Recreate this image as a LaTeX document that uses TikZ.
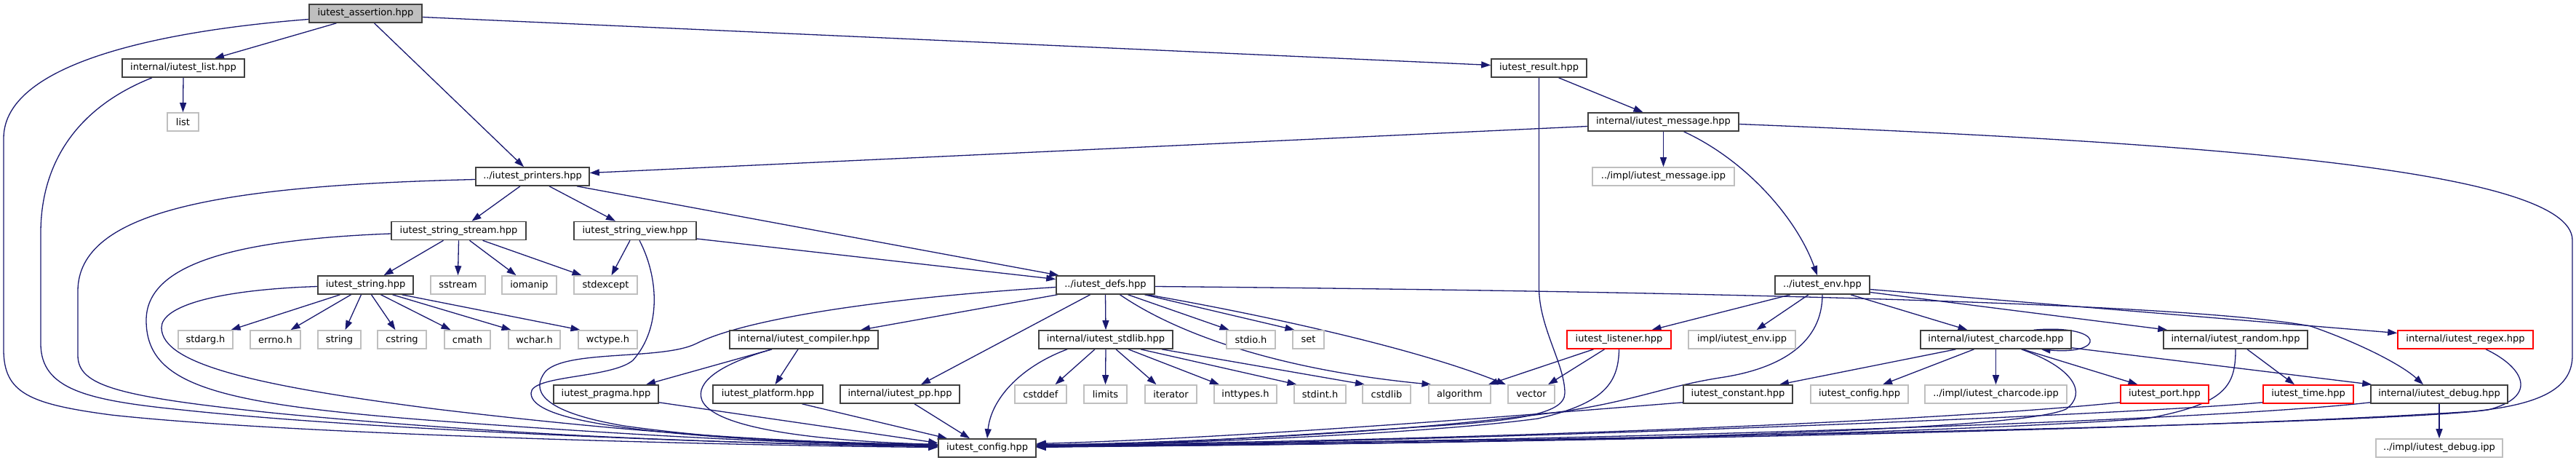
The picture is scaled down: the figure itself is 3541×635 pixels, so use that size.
\documentclass[tikz,border=0pt]{standalone}
\usepackage{fontspec}
\setmainfont{DejaVu Sans}
\usetikzlibrary{arrows.meta}
\definecolor{edgec}{HTML}{191970}
\definecolor{boxc}{HTML}{404040}
\definecolor{extc}{HTML}{BFBFBF}
\definecolor{rootc}{HTML}{BFBFBF}
\definecolor{redc}{HTML}{FF0000}
\pgfdeclarelayer{bg}
\pgfsetlayers{bg,main}
\begin{document}
\begin{tikzpicture}[x=1pt,y=-1pt,
  box/.style={draw=boxc, line width=1.6pt, fill=white, minimum height=25pt, inner sep=0pt, font=\fontsize{13pt}{15pt}\selectfont, text=black},
  ext/.style={box, draw=extc},
  redbox/.style={box, draw=redc},
  root/.style={box, fill=rootc},
  dep/.style={draw=edgec, line width=1.3pt, -{Triangle[length=13pt,width=9pt]}}
]
\useasboundingbox (0,0) rectangle (3541,635);
% row 0
\node[root, minimum width=155pt] (assert) at (502.5,18.5) {iutest\_assertion.hpp};
% row 1
\node[box, minimum width=168pt] (ilist) at (252,93.5) {internal/iutest\_list.hpp};
\node[box, minimum width=131pt] (result) at (2115.5,93.5) {iutest\_result.hpp};
% row 2
\node[ext, minimum width=43pt] (list) at (251.5,167.5) {list};
\node[box, minimum width=207pt] (msg) at (2286.5,167.5) {internal/iutest\_message.hpp};
% row 3
\node[box, minimum width=156pt] (printers) at (732,242.5) {../iutest\_printers.hpp};
\node[ext, minimum width=195pt] (msgipp) at (2286.5,242.5) {../impl/iutest\_message.ipp};
% row 4
\node[box, minimum width=185pt] (sstreamh) at (630.5,317) {iutest\_string\_stream.hpp};
\node[box, minimum width=168pt] (sview) at (873,317) {iutest\_string\_view.hpp};
% row 5
\node[box, minimum width=131pt] (strh) at (502.5,391.5) {iutest\_string.hpp};
\node[ext, minimum width=75pt] (sstream) at (629.5,391.5) {sstream};
\node[ext, minimum width=75pt] (iomanip) at (727.5,391.5) {iomanip};
\node[ext, minimum width=87pt] (stdexcept) at (832.5,391.5) {stdexcept};
\node[box, minimum width=135pt] (defs) at (1519.5,391.5) {../iutest\_defs.hpp};
\node[box, minimum width=130pt] (env) at (2505,391.5) {../iutest\_env.hpp};
% row 6
\node[ext, minimum width=75pt] (stdarg) at (282.5,466.5) {stdarg.h};
\node[ext, minimum width=69pt] (errno) at (378.5,466.5) {errno.h};
\node[ext, minimum width=59pt] (string) at (466.5,466.5) {string};
\node[ext, minimum width=67pt] (cstring) at (552.5,466.5) {cstring};
\node[ext, minimum width=63pt] (cmath) at (642.5,466.5) {cmath};
\node[ext, minimum width=71pt] (wchar) at (734.5,466.5) {wchar.h};
\node[ext, minimum width=81pt] (wctype) at (835.5,466.5) {wctype.h};
\node[box, minimum width=204pt] (compiler) at (1105,466.5) {internal/iutest\_compiler.hpp};
\node[box, minimum width=184pt] (stdlib) at (1520,466.5) {internal/iutest\_stdlib.hpp};
\node[ext, minimum width=67pt] (stdio) at (1719.5,466.5) {stdio.h};
\node[ext, minimum width=43pt] (set) at (1798.5,466.5) {set};
\node[redbox, minimum width=143pt] (listener) at (2225.5,466.5) {iutest\_listener.hpp};
\node[ext, minimum width=147pt] (envipp) at (2394.5,466.5) {impl/iutest\_env.ipp};
\node[box, minimum width=207pt] (charcode) at (2743.5,466.5) {internal/iutest\_charcode.hpp};
\node[box, minimum width=198pt] (random) at (3073,466.5) {internal/iutest\_random.hpp};
\node[redbox, minimum width=186pt] (regex) at (3389,466.5) {internal/iutest\_regex.hpp};
% row 7
\node[box, minimum width=144pt] (pragma) at (833,541.5) {iutest\_pragma.hpp};
\node[box, minimum width=151pt] (platform) at (1055.5,541.5) {iutest\_platform.hpp};
\node[box, minimum width=164pt] (pp) at (1237,541.5) {internal/iutest\_pp.hpp};
\node[ext, minimum width=71pt] (cstddef) at (1430.5,541.5) {cstddef};
\node[ext, minimum width=59pt] (limits) at (1519.5,541.5) {limits};
\node[ext, minimum width=71pt] (iterator) at (1609.5,541.5) {iterator};
\node[ext, minimum width=86pt] (inttypes) at (1712,541.5) {inttypes.h};
\node[ext, minimum width=71pt] (stdint) at (1814.5,541.5) {stdint.h};
\node[ext, minimum width=66pt] (cstdlib) at (1906,541.5) {cstdlib};
\node[ext, minimum width=85pt] (algorithm) at (2006.5,541.5) {algorithm};
\node[ext, minimum width=64pt] (vector) at (2105,541.5) {vector};
\node[box, minimum width=150pt] (constant) at (2389,541.5) {iutest\_constant.hpp};
\node[ext, minimum width=134pt] (cfgx) at (2556,541.5) {iutest\_config.hpp};
\node[ext, minimum width=195pt] (ccipp) at (2743.5,541.5) {../impl/iutest\_charcode.ipp};
\node[redbox, minimum width=121pt] (port) at (2975.5,541.5) {iutest\_port.hpp};
\node[redbox, minimum width=124pt] (time) at (3173,541.5) {iutest\_time.hpp};
\node[box, minimum width=188pt] (debug) at (3353,541.5) {internal/iutest\_debug.hpp};
% row 8
\node[box, minimum width=134pt] (cfg) at (1357,615.5) {iutest\_config.hpp};
\node[ext, minimum width=174pt] (dbgipp) at (3353,615.5) {../impl/iutest\_debug.ipp};

\begin{pgfonlayer}{bg}
% assertion
\draw[dep] ([xshift=-40pt]assert.south) -- ([xshift=43pt]ilist.north);
\draw[dep] ([xshift=12pt]assert.south) -- ([xshift=-12pt]printers.north);
\draw[dep] ([yshift=-5pt]assert.east) -- ([yshift=4pt]result.west);
\draw[dep] ([yshift=-8pt]assert.west) .. controls (250,40) and (5,80) .. (5,190) -- (5,480) .. controls (5,540) and (40,555) .. (153,570) .. controls (400,597) and (1000,612) .. ([yshift=1pt]cfg.west);
% internal/iutest_list.hpp
\draw[dep] (ilist.south) -- (list.north);
\draw[dep] ([xshift=-43pt]ilist.south) .. controls (100,150) and (56,230) .. (56,320) -- (56,472) .. controls (56,535) and (120,550) .. (250,563) .. controls (500,590) and (1000,610) .. ([yshift=2pt]cfg.west);
% printers
\draw[dep] ([xshift=-17pt]printers.south) -- ([xshift=18pt]sstreamh.north);
\draw[dep] ([xshift=23pt]printers.south) -- ([xshift=-27pt]sview.north);
\draw[dep] ([xshift=61pt]printers.south) -- ([xshift=-64pt]defs.north);
\draw[dep] ([yshift=-4pt]printers.west) .. controls (300,255) and (107,290) .. (107,400) -- (107,488) .. controls (107,530) and (160,545) .. (383,568) .. controls (700,598) and (1000,610) .. ([yshift=3pt]cfg.west);
% result
\draw[dep] ([xshift=27pt]result.south) -- ([xshift=-28pt]msg.north);
\draw[dep] (result.south) -- (2115.5,395) .. controls (2115.5,450) and (2151,500) .. (2151,540) .. controls (2151,570) and (2080,578) .. (1960,586) .. controls (1750,600) and (1550,612) .. ([yshift=1pt]cfg.east);
% message
\draw[dep] ([yshift=-6pt]msg.west) -- ([yshift=5pt]printers.east);
\draw[dep] (msg.south) -- (msgipp.north);
\draw[dep] ([xshift=28pt]msg.south) .. controls (2400,220) and (2470,300) .. ([xshift=-7pt]env.north);
\draw[dep] ([yshift=-3pt]msg.east) .. controls (3000,195) and (3536,230) .. (3536,330) -- (3536,488) .. controls (3536,530) and (3500,555) .. (3400,565) .. controls (3000,592) and (2000,610) .. ([yshift=2pt]cfg.east);
% string_stream
\draw[dep] ([xshift=-21pt]sstreamh.south) -- ([xshift=25pt]strh.north);
\draw[dep] (sstreamh.south) -- (sstream.north);
\draw[dep] ([xshift=15pt]sstreamh.south) -- ([xshift=-18pt]iomanip.north);
\draw[dep] ([xshift=33pt]sstreamh.south) -- ([xshift=-33pt]stdexcept.north);
\draw[dep] ([yshift=-4pt]sstreamh.west) .. controls (300,330) and (201,370) .. (201,440) .. controls (201,530) and (300,555) .. (600,578) .. controls (900,600) and (1100,610) .. ([yshift=4pt]cfg.west);
% string_view
\draw[dep] ([xshift=-7pt]sview.south) -- ([xshift=8pt]stdexcept.north);
\draw[dep] ([yshift=-11pt]sview.east) -- ([yshift=8pt]defs.west);
\draw[dep] ([xshift=6pt]sview.south) .. controls (905,380) and (910,450) .. (870,495) .. controls (840,520) and (730,515) .. (730,540) .. controls (730,570) and (820,588) .. (1000,601) .. controls (1100,607) and (1200,610) .. ([yshift=4pt]cfg.west);
% string
\draw[dep] ([xshift=-35pt]strh.south) -- ([xshift=35pt]stdarg.north);
\draw[dep] ([xshift=-20pt]strh.south) -- ([xshift=21pt]errno.north);
\draw[dep] ([xshift=-6pt]strh.south) -- ([xshift=8pt]string.north);
\draw[dep] ([xshift=8pt]strh.south) -- ([xshift=-9pt]cstring.north);
\draw[dep] ([xshift=21pt]strh.south) -- ([xshift=-23pt]cmath.north);
\draw[dep] ([xshift=37pt]strh.south) -- ([xshift=-32pt]wchar.north);
\draw[dep] ([xshift=50pt]strh.south) -- ([xshift=-38pt]wctype.north);
\draw[dep] ([yshift=-2pt]strh.west) .. controls (300,398) and (222,420) .. (222,450) .. controls (222,500) and (350,530) .. (600,562) .. controls (900,598) and (1100,608) .. ([yshift=5pt]cfg.west);
% defs
\draw[dep] ([xshift=-66pt]defs.south) -- ([xshift=78pt]compiler.north);
\draw[dep] (defs.south) -- (stdlib.north);
\draw[dep] ([xshift=-21pt]defs.south) -- ([xshift=29pt]pp.north);
\draw[dep] ([xshift=31pt]defs.south) -- ([xshift=-30pt]stdio.north);
\draw[dep] ([xshift=54pt]defs.south) -- ([xshift=-19pt]set.north);
\draw[dep] ([xshift=20pt]defs.south) .. controls (1620,460) and (1760,508) .. ([xshift=-39pt]algorithm.north);
\draw[dep] ([xshift=58pt]defs.south) .. controls (1750,435) and (1950,480) .. ([xshift=-35pt]vector.north);
\draw[dep] ([yshift=-2pt]defs.east) .. controls (2300,400) and (3000,415) .. (3176,448) .. controls (3240,470) and (3300,500) .. ([xshift=-22pt]debug.north);
\draw[dep] ([yshift=-3pt]defs.west) .. controls (1200,410) and (1020,440) .. (957,472) .. controls (910,495) and (780,480) .. (750,510) .. controls (730,535) and (740,565) .. (858,585) .. controls (1000,605) and (1150,610) .. ([yshift=3pt]cfg.west);
% compiler
\draw[dep] ([xshift=-44pt]compiler.south) -- ([xshift=55pt]pragma.north);
\draw[dep] ([xshift=-8pt]compiler.south) -- ([xshift=10pt]platform.north);
\draw[dep] ([xshift=-44pt]compiler.south) .. controls (990,500) and (955,525) .. (965,550) .. controls (980,585) and (1100,605) .. ([yshift=5pt]cfg.west);
\draw[dep] ([yshift=2pt]pragma.south east) -- ([yshift=7pt]cfg.west);
\draw[dep] ([xshift=47pt]platform.south) -- ([xshift=-55pt]cfg.north);
\draw[dep] ([xshift=20pt]pp.south) -- ([xshift=-24pt]cfg.north);
% stdlib
\draw[dep] ([xshift=-53pt]stdlib.south) .. controls (1400,505) and (1362,550) .. (cfg.north);
\draw[dep] ([xshift=-15pt]stdlib.south) -- ([xshift=20pt]cstddef.north);
\draw[dep] (stdlib.south) -- (limits.north);
\draw[dep] ([xshift=14pt]stdlib.south) -- ([xshift=-20pt]iterator.north);
\draw[dep] ([xshift=31pt]stdlib.south) -- ([xshift=-36pt]inttypes.north);
\draw[dep] ([xshift=48pt]stdlib.south) -- ([xshift=-32pt]stdint.north);
\draw[dep] ([xshift=77pt]stdlib.south) -- ([xshift=-30pt]cstdlib.north);
% listener
\draw[dep] ([xshift=-35pt]listener.south) -- ([xshift=-4pt]algorithm.north east);
\draw[dep] ([xshift=-20pt]listener.south) -- ([xshift=23pt]vector.north);
\draw[dep] (listener.south) .. controls (2225,530) and (2200,555) .. (2114,575) .. controls (1950,597) and (1600,610) .. ([yshift=3pt]cfg.east);
% env
\draw[dep] ([xshift=-44pt]env.south) -- ([xshift=45pt]listener.north);
\draw[dep] ([xshift=-19pt]env.south) -- ([xshift=20pt]envipp.north);
\draw[dep] ([xshift=39pt]env.south) -- ([xshift=-39pt]charcode.north);
\draw[dep] ([yshift=-10pt]env.east) -- ([xshift=6pt]random.north west);
\draw[dep] ([yshift=-6pt]env.east) -- ([yshift=9pt]regex.west);
\draw[dep] (env.south) .. controls (2505,470) and (2450,505) .. (2370,518) .. controls (2290,530) and (2250,550) .. (2150,565) .. controls (1900,598) and (1600,608) .. ([yshift=4pt]cfg.east);
% charcode
\draw[dep] ([xshift=52pt]charcode.north) .. controls (2895,445) and (2895,488) .. ([xshift=62pt]charcode.south);
\draw[dep] ([xshift=-55pt]charcode.south) -- ([xshift=57pt]constant.north);
\draw[dep] ([xshift=-30pt]charcode.south) -- ([xshift=32pt]cfgx.north);
\draw[dep] (charcode.south) -- (ccipp.north);
\draw[dep] ([xshift=37pt]charcode.south) -- ([xshift=-37pt]port.north);
\draw[dep] ([yshift=2pt]charcode.south east) -- ([xshift=2pt]debug.north west);
\draw[dep] ([xshift=35pt]charcode.south) .. controls (2850,505) and (2870,540) .. (2840,562) .. controls (2800,580) and (2600,590) .. (2360,598) .. controls (2000,610) and (1600,612) .. ([yshift=1pt]cfg.east);
% random
\draw[dep] ([xshift=16pt]random.south) -- ([xshift=-19pt]time.north);
\draw[dep] (random.south) .. controls (3073,530) and (3060,555) .. (2950,575) .. controls (2600,600) and (1800,612) .. ([yshift=2pt]cfg.east);
% time, debug, regex, port, constant
\draw[dep] ([yshift=2pt]time.south west) .. controls (2900,572) and (1900,610) .. ([yshift=3pt]cfg.east);
\draw[dep] ([yshift=2pt]debug.south west) .. controls (3000,582) and (2000,610) .. ([yshift=4pt]cfg.east);
\draw[dep] (debug.south) -- (dbgipp.north);
\draw[dep] ([xshift=28pt]regex.south) .. controls (3470,505) and (3490,545) .. (3420,563) .. controls (3300,580) and (2500,600) .. ([yshift=2pt]cfg.east);
\draw[dep] ([yshift=2pt]port.south west) .. controls (2600,585) and (1800,610) .. ([yshift=5pt]cfg.east);
\draw[dep] ([yshift=2pt]constant.south west) .. controls (2100,570) and (1700,602) .. ([yshift=6pt]cfg.east);
\end{pgfonlayer}
\end{tikzpicture}
\end{document}
